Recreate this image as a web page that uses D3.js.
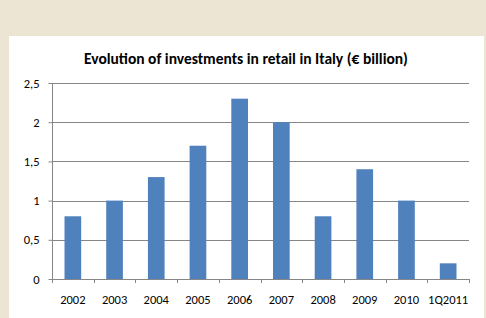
<!DOCTYPE html>
<html>
<head>
<meta charset="utf-8">
<script src="https://cdn.jsdelivr.net/npm/d3@7"></script>
<style>
  body { margin: 0; background: #ece5d3; }
  svg { display: block; }
  text { font-family: Carlito, Lato, "Open Sans", sans-serif; fill: #000; }
</style>
</head>
<body>
<svg id="chart"></svg>
<script>
// Chart data
const categories = ["2002", "2003", "2004", "2005", "2006", "2007", "2008", "2009", "2010", "1Q2011"];
const values = [0.8, 1.0, 1.3, 1.7, 2.3, 2.0, 0.8, 1.4, 1.0, 0.2];
const yTicks = [0, 0.5, 1, 1.5, 2, 2.5];
const yTickLabels = ["0", "0,5", "1", "1,5", "2", "2,5"];

const width = 486;
const height = 318;
const plot = { left: 52, right: 469, top: 83, bottom: 279 };

const svg = d3.select("#chart").attr("width", width).attr("height", height);

// white chart panel
svg.append("rect")
  .attr("x", 9).attr("y", 36)
  .attr("width", 475).attr("height", height - 36)
  .attr("fill", "#fff");

svg.append("text")
  .attr("x", 246).attr("y", 64)
  .attr("text-anchor", "middle")
  .attr("font-size", "15.5px")
  .attr("font-weight", "bold")
  .text("Evolution of investments in retail in Italy (€ billion)");

const x = d3.scaleBand()
  .domain(categories)
  .range([plot.left, plot.right])
  .paddingInner(0.6)
  .paddingOuter(0.3);

const y = d3.scaleLinear()
  .domain([0, 2.5])
  .range([plot.bottom, plot.top]);

// gridlines
svg.append("g")
  .selectAll("line")
  .data(yTicks.filter(d => d > 0))
  .enter()
  .append("line")
  .attr("x1", plot.left).attr("x2", plot.right)
  .attr("y1", d => Math.round(y(d)) + 0.5)
  .attr("y2", d => Math.round(y(d)) + 0.5)
  .attr("stroke", "#868686")
  .attr("stroke-width", 1);

// bars
svg.append("g")
  .selectAll("rect")
  .data(values)
  .enter()
  .append("rect")
  .attr("x", (d, i) => x(categories[i]))
  .attr("y", d => y(d))
  .attr("width", x.bandwidth())
  .attr("height", d => y(0) - y(d))
  .attr("fill", "#4f81bd");

// y axis
const yAxis = d3.axisLeft(y)
  .tickValues(yTicks)
  .tickFormat((d, i) => yTickLabels[i])
  .tickSize(4)
  .tickPadding(9);

const yG = svg.append("g")
  .attr("transform", `translate(${plot.left + 0.5},0)`)
  .call(yAxis);
yG.selectAll("path, line").attr("stroke", "#868686");
yG.selectAll("text").attr("font-size", "12.5px").attr("font-family", "Carlito, Lato, 'Open Sans', sans-serif");
yG.select(".domain").attr("d", `M0,${plot.top}V${plot.bottom}`);

// x axis with ticks at category boundaries
const boundaries = d3.range(categories.length + 1).map(i => plot.left + i * (plot.right - plot.left) / categories.length);

const xG = svg.append("g");
xG.append("line")
  .attr("x1", plot.left).attr("x2", plot.right)
  .attr("y1", plot.bottom + 0.5).attr("y2", plot.bottom + 0.5)
  .attr("stroke", "#868686");
xG.selectAll("line.tick")
  .data(boundaries)
  .enter()
  .append("line")
  .attr("class", "tick")
  .attr("x1", d => Math.round(d) + 0.5).attr("x2", d => Math.round(d) + 0.5)
  .attr("y1", plot.bottom).attr("y2", plot.bottom + 4)
  .attr("stroke", "#868686");
xG.selectAll("text")
  .data(categories)
  .enter()
  .append("text")
  .attr("x", d => x(d) + x.bandwidth() / 2)
  .attr("y", 304)
  .attr("text-anchor", "middle")
  .attr("font-size", "12.5px")
  .text(d => d);
</script>
</body>
</html>
